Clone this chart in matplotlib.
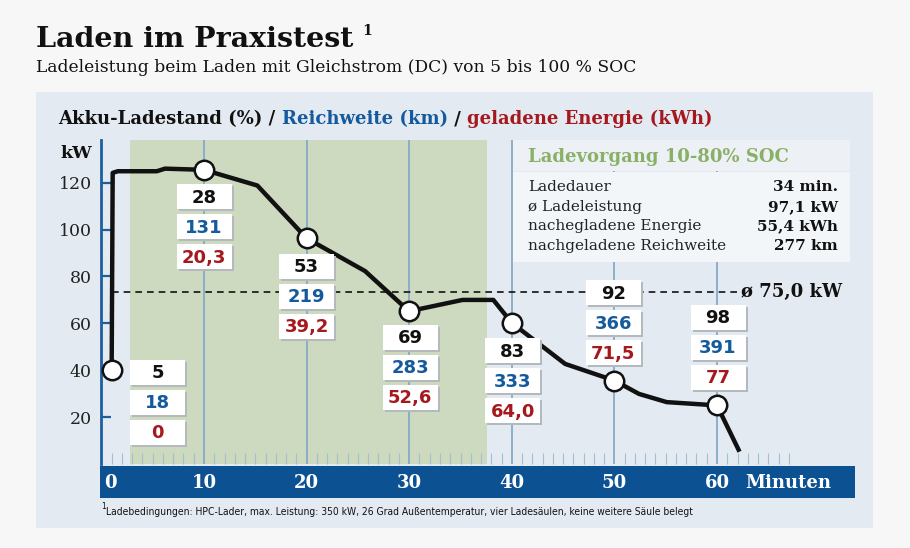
import matplotlib
matplotlib.use('Agg')
import matplotlib.pyplot as plt
import matplotlib.patches as mpatches
import matplotlib.transforms as mtransforms
import numpy as np

# Ladekurve: Zeit (Minuten) und Ladeleistung (kW)
minutes = [1.0, 1.1, 1.6, 5.4, 6.2, 10.0, 15.2, 20.0, 25.7, 30.0, 31.1,
           35.2, 38.2, 40.0, 45.2, 50.0, 52.4, 55.1, 60.0, 62.1]
power_kw = [40.0, 124.2, 124.9, 124.9, 126.0, 125.5, 118.8, 96.3, 82.3, 65.1, 66.2,
            70.0, 70.0, 60.2, 42.7, 35.6, 29.9, 26.4, 25.0, 6.1]

# Messpunkte mit Beschriftung
mark_minutes = [1.0, 10.0, 20.0, 30.0, 40.0, 50.0, 60.0]
mark_kw = [40.0, 125.5, 96.3, 65.1, 60.2, 35.6, 25.0]
soc_pct = ['5', '28', '53', '69', '83', '92', '98']
range_km = ['18', '131', '219', '283', '333', '366', '391']
energy_kwh = ['0', '20,3', '39,2', '52,6', '64,0', '71,5', '77']

# Ladevorgang 10-80 % SOC
window_start, window_end = 2.8, 37.6
avg_kw = 73.5
avg_label = 'ø 75,0 kW'
info_labels = ['Ladedauer', 'ø Ladeleistung', 'nachegladene Energie', 'nachgeladene Reichweite']
info_values = ['34 min.', '97,1 kW', '55,4 kWh', '277 km']

x_ticks = [0, 10, 20, 30, 40, 50, 60]
y_ticks = [20, 40, 60, 80, 100, 120]

# Farben
BLACK = '#111111'
BLUE = '#155a9c'
RED = '#a5181d'
GREEN_TXT = '#8ab067'
PANEL = '#e3eaf1'
BAR = '#0c5293'

W, H = 910, 548
fig = plt.figure(figsize=(W / 100, H / 100), dpi=100, facecolor='#f7f7f7')

# Hintergrund-Ebene in Pixelkoordinaten
bg = fig.add_axes([0, 0, 1, 1], zorder=0)
bg.set_xlim(0, W)
bg.set_ylim(H, 0)
bg.axis('off')
bg.add_patch(mpatches.Rectangle((36, 92), 837, 436, color=PANEL, lw=0))
bg.add_patch(mpatches.Rectangle((100, 466), 755, 32, color=BAR, lw=0))

# Haupt-Achse
x0, x1 = 101.4, 855
y0, y1 = 464, 140
ax = fig.add_axes([x0 / W, (H - y0) / H, (x1 - x0) / W, (y0 - y1) / H], zorder=1)
ax.patch.set_alpha(0)
ax.set_xlim(0, (x1 - x0) / 10.26)
ax.set_ylim(0, (y0 - y1) / 2.344)

ax.axvspan(window_start, window_end, color='#cddabf', lw=0, zorder=0)

ax.set_xticks(x_ticks[1:])
ax.set_xticks([m for m in range(1, 68) if m % 10 != 0], minor=True)
ax.grid(axis='x', which='major', color='#86aac8', lw=1.3, zorder=1)
ax.tick_params(axis='x', which='major', length=0, labelbottom=False)
ax.tick_params(axis='x', which='minor', direction='in', length=8, width=0.8,
               color='#a3bdd3')

ax.set_yticks(y_ticks)
ax.tick_params(axis='y', direction='in', length=7, width=1.6, color='#1f5f9e',
               pad=7, labelsize=12.5, labelcolor='#222222')
for lab in ax.get_yticklabels():
    lab.set_family('DejaVu Serif')

for s in ['top', 'right', 'bottom']:
    ax.spines[s].set_visible(False)
ax.spines['left'].set_color('#1f5f9e')
ax.spines['left'].set_linewidth(2)

ax.text(-0.012, 0.985, 'kW', transform=ax.transAxes, ha='right', va='top',
        fontsize=12.5, fontweight='bold', family='DejaVu Serif', color=BLACK)

# Durchschnittslinie
ax.plot([minutes[0], 62.2], [avg_kw, avg_kw], color=BLACK, lw=1.2,
        dashes=(4, 3), zorder=2)
ax.text(62.3, avg_kw, avg_label, ha='left', va='center', fontsize=13,
        fontweight='bold', family='DejaVu Serif', color=BLACK, zorder=3)

# Kurve
ax.plot(minutes, power_kw, color=BLACK, lw=3.2, solid_joinstyle='round',
        zorder=4)
ax.plot(mark_minutes, mark_kw, 'o', ms=14, mfc='white', mec=BLACK, mew=1.8,
        zorder=5)

# Beschriftungsboxen (Versatz der ersten Box in Pixeln)
box_offsets = [(46, -2), (0, -27), (0, -28), (1, -26), (1, -28), (-1, 88), (1, 88)]
bw, bh, step = 55, 25, 30
for i in range(len(mark_minutes)):
    dx, dy = box_offsets[i]
    base = mtransforms.ScaledTranslation(mark_minutes[i], mark_kw[i], ax.transData)
    vals = [(soc_pct[i], BLACK), (range_km[i], BLUE), (energy_kwh[i], RED)]
    for j, (txt, col) in enumerate(vals):
        cy = dy - j * step
        tr = mtransforms.Affine2D().translate(dx, cy) + base
        ax.add_patch(mpatches.Rectangle((-bw / 2 + 2, -bh / 2 - 2), bw, bh,
                                        transform=tr, color='#b4b9be', lw=0,
                                        zorder=6, clip_on=False))
        ax.add_patch(mpatches.Rectangle((-bw / 2, -bh / 2), bw, bh,
                                        transform=tr, color='white', lw=0,
                                        zorder=7, clip_on=False))
        ax.text(0, -1, txt, transform=tr, ha='center', va='center',
                fontsize=13, fontweight='bold', color=col, zorder=8)

# Achsenbeschriftung im blauen Balken
lab_tr = mtransforms.blended_transform_factory(ax.transData, bg.transData)
for t in x_ticks:
    xx = t if t > 0 else 0.9
    ax.text(xx, 483, str(t), transform=lab_tr, ha='center', va='center',
            fontsize=13, fontweight='bold', color='white',
            family='DejaVu Serif', zorder=9, clip_on=False)
bg.text(745, 483, 'Minuten', ha='left', va='center', fontsize=13,
        fontweight='bold', color='white', family='DejaVu Serif')

# Obere Ebene: Info-Box und Texte
top = fig.add_axes([0, 0, 1, 1], zorder=3)
top.set_xlim(0, W)
top.set_ylim(H, 0)
top.axis('off')
top.add_patch(mpatches.Rectangle((513, 140), 337, 31, color='#edf1f6', lw=0))
top.add_patch(mpatches.Rectangle((513, 172), 337, 90, color='#f3f6f9', lw=0))
top.text(528, 157, 'Ladevorgang 10-80% SOC', ha='left', va='center',
         fontsize=13, fontweight='bold', color=GREEN_TXT, family='DejaVu Serif')
for k, (lab, val) in enumerate(zip(info_labels, info_values)):
    yy = 187 + k * 19.7
    top.text(528, yy, lab, ha='left', va='center', fontsize=11,
             color='#222222', family='DejaVu Serif')
    top.text(838, yy, val, ha='right', va='center', fontsize=11,
             fontweight='bold', color=BLACK, family='DejaVu Serif')

# Titel
top.text(36, 47, 'Laden im Praxistest', ha='left', va='baseline', fontsize=20.5,
         fontweight='bold', family='DejaVu Serif', color=BLACK)
top.text(362, 35, '1', ha='left', va='baseline', fontsize=10,
         fontweight='bold', family='DejaVu Serif', color=BLACK)
top.text(36, 72, 'Ladeleistung beim Laden mit Gleichstrom (DC) von 5 bis 100 % SOC',
         ha='left', va='baseline', fontsize=12.3, family='DejaVu Serif',
         color=BLACK)

# Kopfzeile in drei Farben
fig.canvas.draw()
renderer = fig.canvas.get_renderer()
hx = 58
for part, col in [('Akku-Ladestand (%) / ', BLACK), ('Reichweite (km)', BLUE),
                  (' / ', BLACK), ('geladene Energie (kWh)', RED)]:
    t = top.text(hx, 124, part, ha='left', va='baseline', fontsize=13,
                 fontweight='bold', family='DejaVu Serif', color=col)
    hx += t.get_window_extent(renderer=renderer).width

# Fußnote (schmal, Breite wie im Original)
top.text(101, 509, '1', ha='left', va='baseline', fontsize=5.5, color=BLACK)
note = top.text(106, 515, 'Ladebedingungen: HPC-Lader, max. Leistung: 350 kW, 26 Grad '
                'Außentemperatur, vier Ladesäulen, keine weitere Säule belegt',
                ha='left', va='baseline', fontsize=8.5, color=BLACK,
                family='DejaVu Sans', fontstretch='condensed')
w = note.get_window_extent(renderer=renderer).width
if w > 590:
    note.set_fontsize(8.5 * 588 / w)

fig.savefig('out.png', dpi=100, facecolor=fig.get_facecolor())
